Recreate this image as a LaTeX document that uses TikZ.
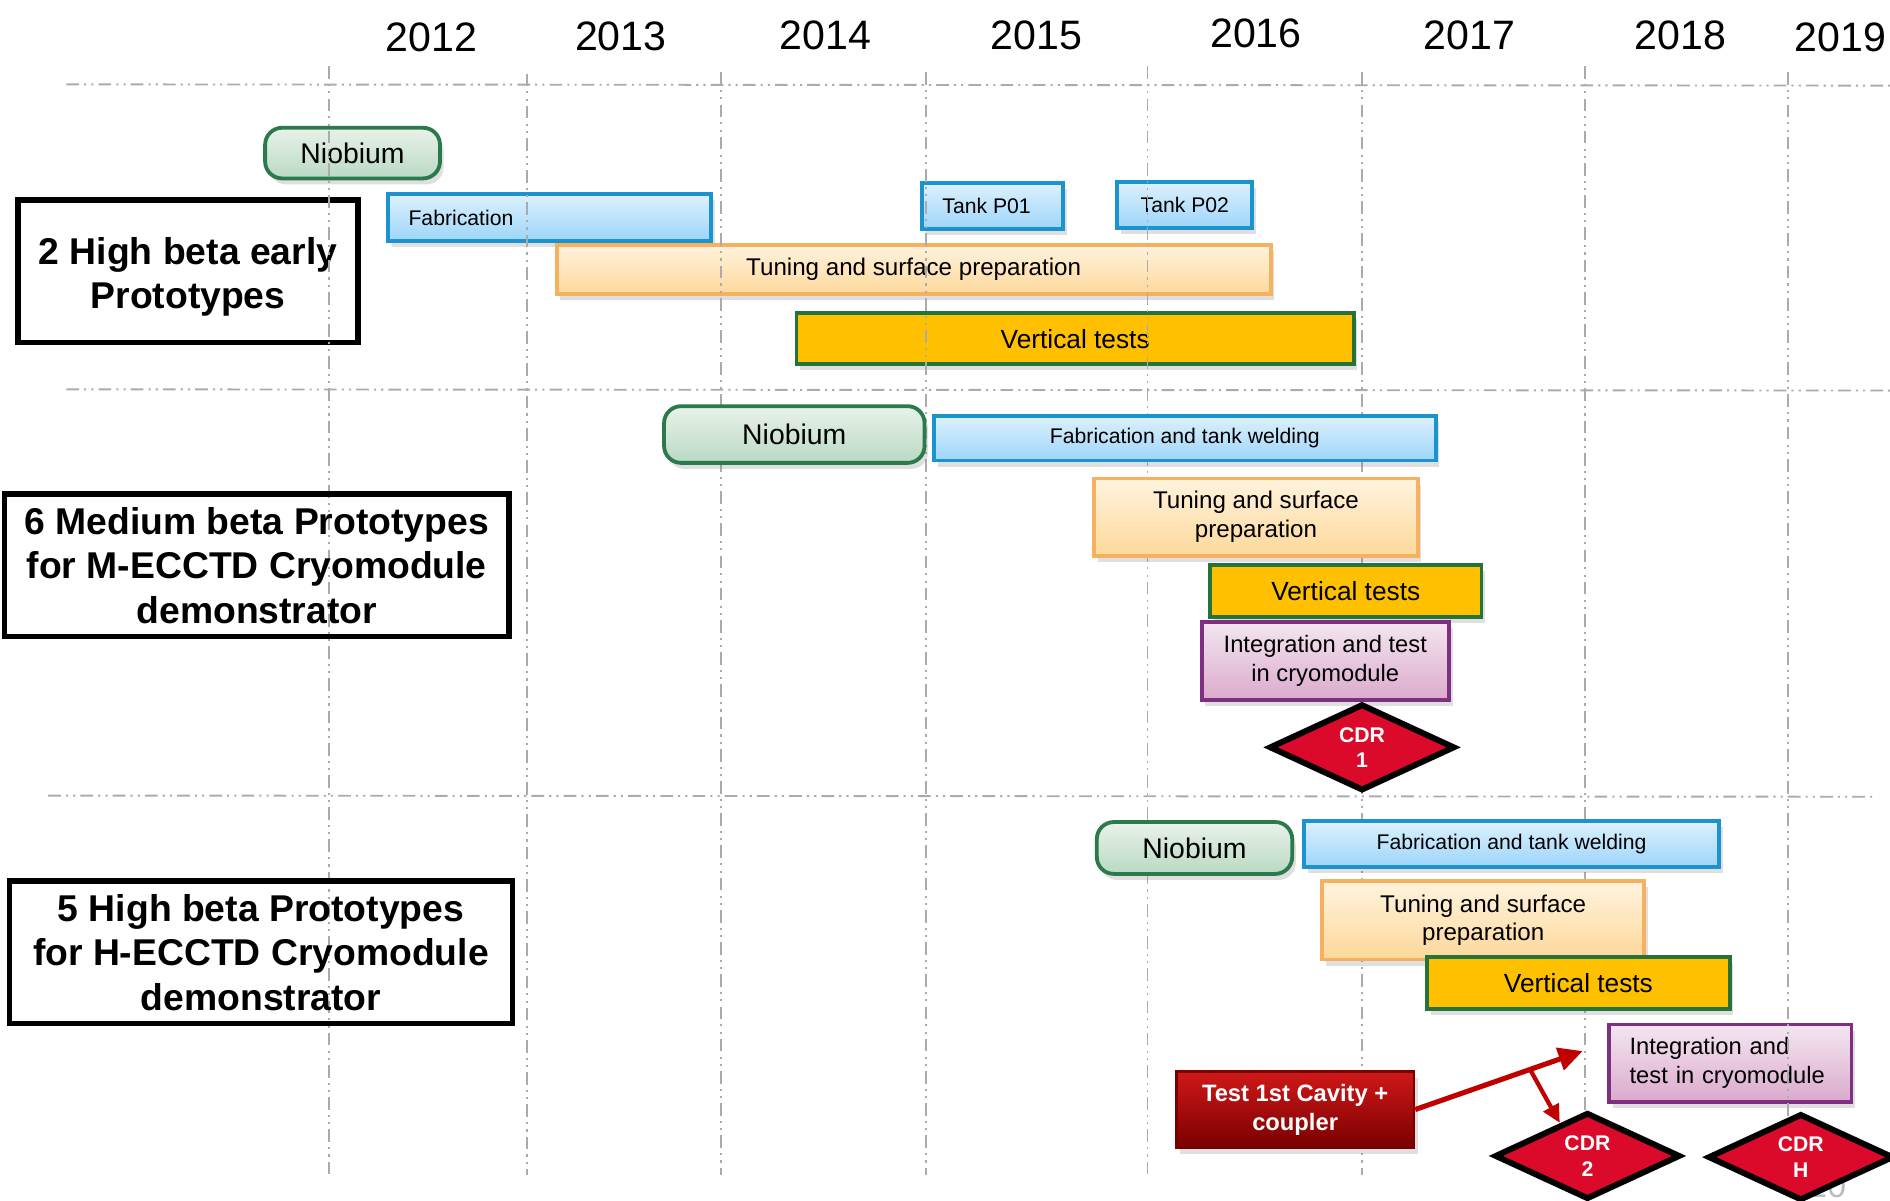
\documentclass[tikz,border=0pt]{standalone}
\usepackage{fontspec}
\setmainfont{Liberation Sans}
\usetikzlibrary{positioning,arrows.meta,shapes.geometric,shadows}
\definecolor{gridgray}{HTML}{ABABAB}
\definecolor{nbtop}{HTML}{E9F2EA}
\definecolor{nbbot}{HTML}{B9D9C3}
\definecolor{nbline}{HTML}{2A7A4B}
\definecolor{fabtop}{HTML}{DDF1FD}
\definecolor{fabbot}{HTML}{9DD5FA}
\definecolor{fabline}{HTML}{1A93CF}
\definecolor{tuntop}{HTML}{FFF3DE}
\definecolor{tunbot}{HTML}{FDD89A}
\definecolor{tunline}{HTML}{F5B060}
\definecolor{vtgold}{HTML}{FFC000}
\definecolor{vtline}{HTML}{24733A}
\definecolor{inttop}{HTML}{F3E6F0}
\definecolor{intbot}{HTML}{DBAACC}
\definecolor{intline}{HTML}{7F2F82}
\definecolor{cdrred}{HTML}{DC0A2A}
\definecolor{testtop}{HTML}{D01818}
\definecolor{testbot}{HTML}{7A0000}
\definecolor{arrred}{HTML}{C00000}

\begin{document}
\begin{tikzpicture}[x=0.01cm, y=-0.01cm,
    taskbox/.style={rectangle, inner sep=0pt, align=center,
      drop shadow={shadow xshift=0.03cm, shadow yshift=-0.05cm, opacity=0.25}},
    nbbox/.style={taskbox, rounded corners=4pt, draw=nbline, line width=0.9pt,
      top color=nbtop, bottom color=nbbot, font=\fontsize{6.7}{8}\selectfont},
    fabbox/.style={taskbox, draw=fabline, line width=0.9pt,
      top color=fabtop, bottom color=fabbot, font=\fontsize{5}{6}\selectfont},
    tunbox/.style={taskbox, draw=tunline, line width=0.9pt,
      top color=tuntop, bottom color=tunbot, font=\fontsize{5.7}{6.8}\selectfont},
    vtbox/.style={taskbox, draw=vtline, line width=0.9pt, fill=vtgold,
      font=\fontsize{6.2}{7.5}\selectfont},
    intbox/.style={taskbox, draw=intline, line width=0.9pt,
      top color=inttop, bottom color=intbot, font=\fontsize{5.6}{6.8}\selectfont},
    testbox/.style={taskbox, draw=testbot, line width=0.6pt, top color=testtop,
      bottom color=testbot, text=white, font=\bfseries\fontsize{5.6}{6.8}\selectfont},
    cdrmark/.style={diamond, draw=black, line width=1.4pt, fill=cdrred, inner sep=0pt,
      aspect=2.1, minimum width=1.54cm, minimum height=0.72cm, text=white,
      align=center, font=\bfseries\fontsize{5}{6}\selectfont},
    ttlbox/.style={rectangle, draw=black, line width=1.3pt, inner sep=0pt,
      align=center, minimum height=1.18cm, font=\bfseries\fontsize{8.8}{10.5}\selectfont},
    yearlbl/.style={font=\fontsize{9.7}{11}\selectfont},
    gridln/.style={draw=gridgray, line width=0.45pt,
      dash pattern=on 3pt off 1.2pt on 0.5pt off 1.2pt on 0.5pt off 1.2pt},
    arr/.style={-{Triangle[length=0.2cm, width=0.19cm]}, draw=arrred, line width=1.2pt},
    arrsm/.style={-{Triangle[length=0.15cm, width=0.14cm]}, draw=arrred, line width=1pt}
  ]
  \useasboundingbox (0,0) rectangle (1568,996);

  \foreach \yr/\xx/\yy in {2012/358/31, 2013/515/30, 2014/685/29, 2015/860/29,
      2016/1042/28, 2017/1219/29, 2018/1394/29, 2019/1527/31}
    \node[yearlbl] (y\yr) at (\xx,\yy) {\yr};

  \draw[gridln] (55,70) -- (1568,71);
  \draw[gridln] (55,323) -- (1568,324);
  \draw[gridln] (40,660) -- (1555,661);
  \foreach \xx/\ya in {273/55, 437/61, 598/60, 768/60, 952/55, 1130/60, 1315/55}
    \draw[gridln] (\xx,\ya) -- (\xx,975);

  \node[ttlbox, minimum width=2.82cm] (ttlA) at (156,225) {\rule{0pt}{9pt}2 High beta early\\Prototypes};
  \node[ttlbox, minimum width=4.18cm] (ttlB) at (213,469) {6 Medium beta Prototypes\\for M-ECCTD Cryomodule\\demonstrator};
  \node[ttlbox, minimum width=4.17cm] (ttlC) at (216.5,790) {5 High beta Prototypes\\for H-ECCTD Cryomodule\\demonstrator};

  \node[nbbox, minimum width=1.45cm, minimum height=0.42cm] (nbA) at (292.5,127) {Niobium};
  \node[fabbox, text width=2.34cm, inner xsep=0.17cm, align=left, minimum height=0.39cm] (fabA) at (456,180.5) {Fabrication};
  \node[fabbox, minimum width=1.17cm, minimum height=0.38cm] (tk1) at (823.5,171) {Tank P01\hspace{0.1cm}};
  \node[fabbox, minimum width=1.12cm, minimum height=0.38cm] (tk2) at (983,170) {Tank P02};
  \node[tunbox, minimum width=5.92cm, minimum height=0.41cm] (tunA) at (758,223.5) {Tuning and surface preparation};
  \node[vtbox, minimum width=4.62cm, minimum height=0.42cm] (vtA) at (892,281) {Vertical tests};

  \node[nbbox, minimum width=2.16cm, minimum height=0.47cm] (nbB) at (659,360.5) {Niobium};
  \node[fabbox, minimum width=4.16cm, minimum height=0.37cm] (fabB) at (983,363.5) {Fabrication and tank welding};
  \node[tunbox, minimum width=2.68cm, minimum height=0.64cm] (tunB) at (1042,429) {Tuning and surface\\preparation};
  \node[vtbox, minimum width=2.25cm, minimum height=0.43cm] (vtB) at (1116.5,490.5) {Vertical tests};
  \node[intbox, minimum width=2.05cm, minimum height=0.65cm] (intB) at (1099.5,548.5) {Integration and test\\in cryomodule};
  \node[cdrmark] (cdr1) at (1130,620) {CDR\\1};

  \node[nbbox, minimum width=1.62cm, minimum height=0.43cm] (nbC) at (991,703.5) {Niobium};
  \node[fabbox, minimum width=3.44cm, minimum height=0.38cm] (fabC) at (1254,700) {Fabrication and tank welding};
  \node[tunbox, minimum width=2.67cm, minimum height=0.65cm] (tunC) at (1230.5,763.5) {Tuning and surface\\preparation};
  \node[vtbox, minimum width=2.51cm, minimum height=0.43cm] (vtC) at (1309.5,815.5) {Vertical tests};
  \node[intbox, text width=1.67cm, inner xsep=0.17cm, align=left, minimum height=0.64cm] (intC) at (1435.5,882) {Integration and\\test in cryomodule};
  \node[testbox, minimum width=1.97cm, minimum height=0.63cm] (test) at (1074.5,920.5) {Test 1st Cavity +\\coupler};

  \foreach \xx/\ya in {273/55, 437/61, 598/60, 768/60, 952/55}
    \draw[gridln] (\xx,\ya) -- (\xx,323);
  \draw[gridln] (1483,60) -- (1483,975);

  \node[text=gridgray!80, font=\fontsize{8}{9}\selectfont] (pgnum) at (1516,984) {10};
  \node[cdrmark] (cdr2) at (1317,959) {CDR\\2};
  \node[cdrmark] (cdrH) at (1494,960) {CDR\\H};

  \coordinate (tip) at (1313,872);
  \draw[arr] (test.east) -- coordinate[pos=0.686] (brk) (tip);
  \draw[arrsm] (brk) -- (cdr2.130);
\end{tikzpicture}
\end{document}
